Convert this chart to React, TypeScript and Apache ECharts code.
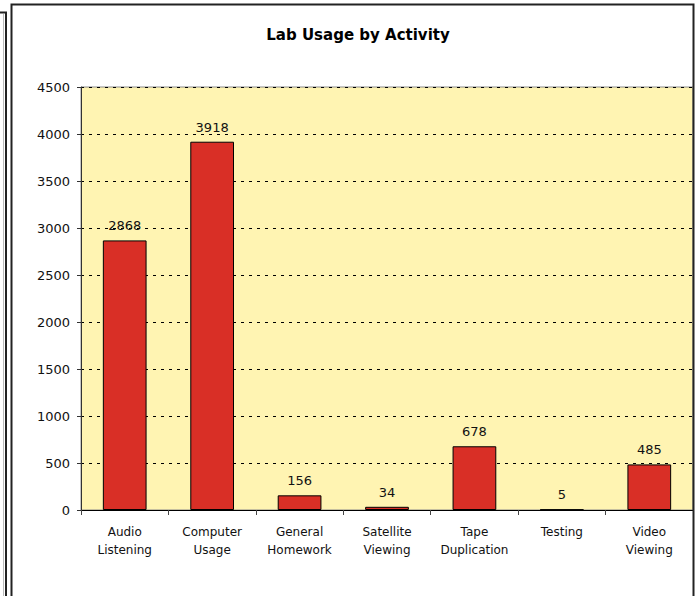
import React, { useEffect, useRef } from "react";
import * as echarts from "echarts";

const categories = [
  "Audio\nListening",
  "Computer\nUsage",
  "General\nHomework",
  "Satellite\nViewing",
  "Tape\nDuplication",
  "Testing",
  "Video\nViewing",
];
const usageValues = [2868, 3918, 156, 34, 678, 5, 485];
const titleText = "Lab Usage by Activity";

export default function App() {
  const ref = useRef<HTMLDivElement>(null);
  useEffect(() => {
    if (!ref.current) return;
    const chart = echarts.init(ref.current, null, { renderer: "svg" });
    const font = "DejaVu Sans";
    chart.setOption({
      animation: false,
      backgroundColor: "#ffffff",
      title: {
        text: titleText,
        left: 353,
        textAlign: "center",
        top: 22,
        textStyle: { fontFamily: font, fontWeight: "bold", fontSize: 15, color: "#000" },
      },
      grid: {
        left: 81,
        top: 87,
        right: 2,
        bottom: 86,
        show: true,
        backgroundColor: "#fff4b2",
        borderColor: "#8a8a8a",
        borderWidth: 1,
      },
      xAxis: {
        type: "category",
        data: categories,
        axisLine: { lineStyle: { color: "#000", width: 1 } },
        axisTick: { show: true, length: 5, lineStyle: { color: "#444" } },
        axisLabel: {
          fontFamily: font,
          fontSize: 12,
          color: "#111",
          margin: 13,
          lineHeight: 18,
          interval: 0,
        },
      },
      yAxis: {
        type: "value",
        min: 0,
        max: 4500,
        interval: 500,
        axisLine: { show: true, lineStyle: { color: "#333", width: 1 } },
        axisTick: { show: true, length: 4, lineStyle: { color: "#333" } },
        axisLabel: {
          fontFamily: font,
          fontSize: 13,
          color: "#111",
          margin: 11,
          formatter: (v: number) => String(v),
        },
        splitLine: { show: true, lineStyle: { color: "#000", type: [3, 5], width: 1 } },
      },
      series: [
        {
          type: "bar",
          data: usageValues,
          barWidth: "50%",
          itemStyle: { color: "#d92f26", borderColor: "#000", borderWidth: 1 },
          label: {
            show: true,
            position: "top",
            distance: 8,
            fontFamily: font,
            fontSize: 13,
            color: "#111",
          },
        },
      ],
      graphic: [
        {
          type: "rect",
          shape: { x: 11.5, y: 4.5, width: 682, height: 600 },
          style: { fill: "none", stroke: "#222", lineWidth: 2 },
          z: 100,
        },
        {
          type: "polyline",
          shape: { points: [[0, 12.5], [6, 12.5], [6, 600]] },
          style: { fill: "none", stroke: "#222", lineWidth: 2 },
          z: 100,
        },
        {
          type: "line",
          shape: { x1: 3.5, y1: 14, x2: 3.5, y2: 600 },
          style: { stroke: "#bbb", lineWidth: 1 },
          z: 100,
        },
      ],
    });
    return () => chart.dispose();
  }, []);
  return (
    <div
      ref={ref}
      style={{ position: "fixed", left: 0, top: 0, width: 695, height: 596 }}
    />
  );
}
